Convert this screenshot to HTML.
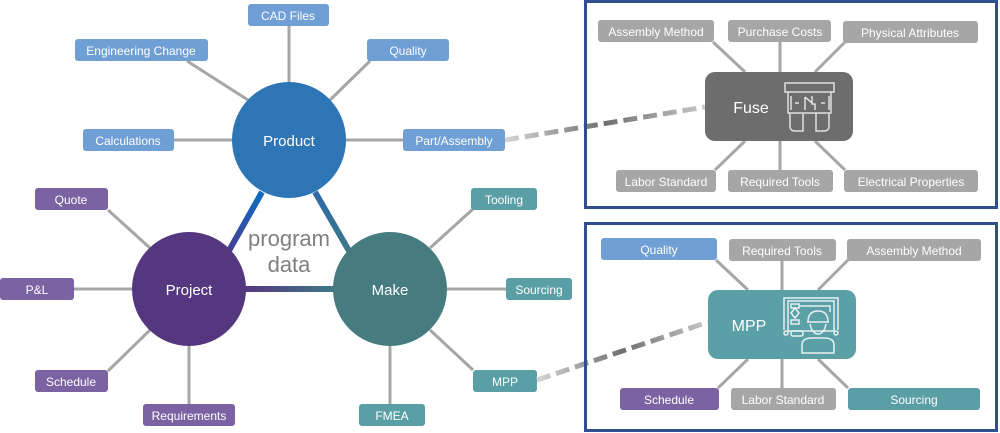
<!DOCTYPE html>
<html><head><meta charset="utf-8"><style>
html,body{margin:0;padding:0;background:#fff;}
svg{display:block;}
text{font-family:"Liberation Sans",sans-serif;}
</style></head><body>
<svg width="1000" height="433" viewBox="0 0 1000 433" xmlns="http://www.w3.org/2000/svg">
<defs>
<linearGradient id="gPP" x1="0" y1="0" x2="0" y2="1"><stop offset="0" stop-color="#0a6fc4"/><stop offset="1" stop-color="#4a3a90"/></linearGradient>
<linearGradient id="gPM" x1="0" y1="0" x2="0" y2="1"><stop offset="0" stop-color="#2d6aa8"/><stop offset="1" stop-color="#3f7a86"/></linearGradient>
<linearGradient id="gH" x1="0" y1="0" x2="1" y2="0"><stop offset="0" stop-color="#553780"/><stop offset="1" stop-color="#3e7b86"/></linearGradient>
<linearGradient id="gD1" gradientUnits="userSpaceOnUse" x1="505" y1="140" x2="705" y2="107"><stop offset="0" stop-color="#d6d6d6"/><stop offset="0.5" stop-color="#707070"/><stop offset="1" stop-color="#c8c8c8"/></linearGradient>
<linearGradient id="gD2" gradientUnits="userSpaceOnUse" x1="537" y1="380" x2="708" y2="322"><stop offset="0" stop-color="#d6d6d6"/><stop offset="0.5" stop-color="#707070"/><stop offset="1" stop-color="#c8c8c8"/></linearGradient>
</defs>
<g stroke="#a6a6a6" stroke-width="3">
<line x1="289" y1="26" x2="289" y2="82"/>
<line x1="187" y1="61" x2="248" y2="100"/>
<line x1="370" y1="61" x2="330" y2="100"/>
<line x1="174" y1="140" x2="232" y2="140"/>
<line x1="346" y1="140" x2="403" y2="140"/>
<line x1="108" y1="210" x2="150" y2="248"/>
<line x1="74" y1="289" x2="133" y2="289"/>
<line x1="108" y1="371" x2="150" y2="330"/>
<line x1="189" y1="346" x2="189" y2="404"/>
<line x1="473" y1="209" x2="430" y2="248"/>
<line x1="447" y1="289" x2="506" y2="289"/>
<line x1="473" y1="370" x2="430" y2="330"/>
<line x1="390" y1="346" x2="390" y2="404"/>
</g>
<line x1="262" y1="192" x2="226" y2="256" stroke="url(#gPP)" stroke-width="6"/>
<line x1="315" y1="192" x2="352" y2="256" stroke="url(#gPM)" stroke-width="6"/>
<rect x="244" y="286" width="92" height="6" fill="url(#gH)"/>
<ellipse cx="289" cy="140" rx="57" ry="58" fill="#2e75b6"/>
<ellipse cx="189" cy="289" rx="57" ry="57" fill="#553780"/>
<ellipse cx="390" cy="289" rx="57" ry="57" fill="#467b80"/>
<g fill="#fff" font-size="15" text-anchor="middle">
<text x="289" y="146">Product</text>
<text x="189" y="295">Project</text>
<text x="390" y="295">Make</text>
</g>
<g fill="#7f7f7f" font-size="22" text-anchor="middle">
<text x="289" y="246">program</text>
<text x="289" y="272">data</text>
</g>
<g font-size="12" fill="#fff" text-anchor="middle">
<g fill="#6f9fd5">
<rect x="248" y="4" width="81" height="22" rx="3"/>
<rect x="75" y="39" width="133" height="22" rx="3"/>
<rect x="367" y="39" width="82" height="22" rx="3"/>
<rect x="83" y="129" width="91" height="22" rx="3"/>
<rect x="403" y="129" width="102" height="22" rx="3"/>
</g>
<text x="288" y="20">CAD Files</text>
<text x="141" y="55">Engineering Change</text>
<text x="408" y="55">Quality</text>
<text x="128" y="145">Calculations</text>
<text x="454" y="145">Part/Assembly</text>
<g fill="#7b62a3">
<rect x="35" y="188" width="73" height="22" rx="3"/>
<rect x="0" y="278" width="74" height="22" rx="3"/>
<rect x="35" y="370" width="73" height="22" rx="3"/>
<rect x="143" y="404" width="92" height="22" rx="3"/>
</g>
<text x="71" y="204">Quote</text>
<text x="37" y="294">P&amp;L</text>
<text x="71" y="386">Schedule</text>
<text x="189" y="420">Requirements</text>
<g fill="#5a9fa6">
<rect x="471" y="188" width="66" height="22" rx="3"/>
<rect x="506" y="278" width="66" height="22" rx="3"/>
<rect x="473" y="370" width="64" height="22" rx="3"/>
<rect x="359" y="404" width="66" height="22" rx="3"/>
</g>
<text x="504" y="204">Tooling</text>
<text x="539" y="294">Sourcing</text>
<text x="505" y="386">MPP</text>
<text x="392" y="420">FMEA</text>
</g>
<line x1="505" y1="140" x2="705" y2="107" stroke="url(#gD1)" stroke-width="5" stroke-dasharray="14,6"/>
<line x1="537" y1="380" x2="708" y2="322" stroke="url(#gD2)" stroke-width="5" stroke-dasharray="14,6"/>
<rect x="585.5" y="1.5" width="411" height="206" fill="none" stroke="#2f4f8f" stroke-width="3"/>
<rect x="585.5" y="223.5" width="411" height="207" fill="none" stroke="#2f4f8f" stroke-width="3"/>
<g stroke="#a6a6a6" stroke-width="3">
<line x1="713" y1="42" x2="745" y2="72"/><line x1="780" y1="42" x2="780" y2="72"/><line x1="845" y1="42" x2="815" y2="72"/>
<line x1="715" y1="170" x2="745" y2="141"/><line x1="780" y1="141" x2="780" y2="170"/><line x1="845" y1="170" x2="815" y2="141"/>
<line x1="716" y1="260" x2="748" y2="290"/><line x1="782" y1="260" x2="782" y2="290"/><line x1="848" y1="260" x2="818" y2="290"/>
<line x1="718" y1="388" x2="748" y2="359"/><line x1="782" y1="359" x2="782" y2="388"/><line x1="848" y1="388" x2="818" y2="359"/>
</g>
<rect x="705" y="72" width="148" height="69" rx="10" fill="#6d6d6d"/>
<rect x="708" y="290" width="148" height="69" rx="10" fill="#5ba0a6"/>
<g font-size="12" fill="#fff" text-anchor="middle">
<g fill="#a6a6a6">
<rect x="598" y="20" width="116" height="22" rx="3"/>
<rect x="728" y="20" width="103" height="22" rx="3"/>
<rect x="843" y="21" width="135" height="22" rx="3"/>
<rect x="616" y="170" width="100" height="22" rx="3"/>
<rect x="728" y="170" width="105" height="22" rx="3"/>
<rect x="844" y="170" width="134" height="22" rx="3"/>
<rect x="729" y="239" width="107" height="22" rx="3"/>
<rect x="847" y="239" width="134" height="22" rx="3"/>
<rect x="731" y="388" width="105" height="22" rx="3"/>
</g>
<rect x="601" y="238" width="116" height="22" rx="3" fill="#6f9fd5"/>
<rect x="620" y="388" width="99" height="22" rx="3" fill="#7b62a3"/>
<rect x="848" y="388" width="132" height="22" rx="3" fill="#5a9fa6"/>
<text x="656" y="36">Assembly Method</text>
<text x="780" y="36">Purchase Costs</text>
<text x="910" y="37">Physical Attributes</text>
<text x="666" y="186">Labor Standard</text>
<text x="780" y="186">Required Tools</text>
<text x="911" y="186">Electrical Properties</text>
<text x="659" y="254">Quality</text>
<text x="782" y="255">Required Tools</text>
<text x="914" y="255">Assembly Method</text>
<text x="669" y="404">Schedule</text>
<text x="783" y="404">Labor Standard</text>
<text x="914" y="404">Sourcing</text>
</g>
<g fill="#fff" font-size="16" text-anchor="middle">
<text x="751" y="113">Fuse</text>
<text x="749" y="331">MPP</text>
</g>
<g fill="none" stroke="#e0e0e0" stroke-width="1.5">
<rect x="785" y="83" width="49" height="9"/>
<path d="M788 92 V113 H831 V92"/>
<path d="M790 113 V126 Q790 131 795 131 H803 V113 M816 113 V131 H824 Q829 131 829 126 V113"/>
<path d="M791 96 V110 M829 96 V110 M795 103 H799 M821 103 H825 M805 97 V110 M805 97 L812 103 M812 96 V104 H815 V110"/>
</g>
<g fill="none" stroke="#e6f0f0" stroke-width="1.5">
<path d="M784 330 V298 H838 V330"/>
<rect x="788" y="301" width="46" height="30"/>
<rect x="791" y="304" width="8" height="4"/><path d="M795 308 L799 313 L795 318 L791 313 Z"/><rect x="791" y="320" width="8" height="4"/>
<path d="M799 306 H830 V312"/>
<path d="M808 322 Q808 311 818 311 Q828 311 828 322 Z M807 322 H829"/>
<path d="M810 324 Q812 334 818 334 Q824 334 826 324"/>
<path d="M802 353 V345 Q802 338 812 338 H824 Q834 338 834 345 V353 Z"/>
<rect x="791" y="331" width="12" height="5" rx="2"/>
<circle cx="836" cy="333" r="2"/><circle cx="786" cy="333" r="2"/>
</g>
</svg>
</body></html>
